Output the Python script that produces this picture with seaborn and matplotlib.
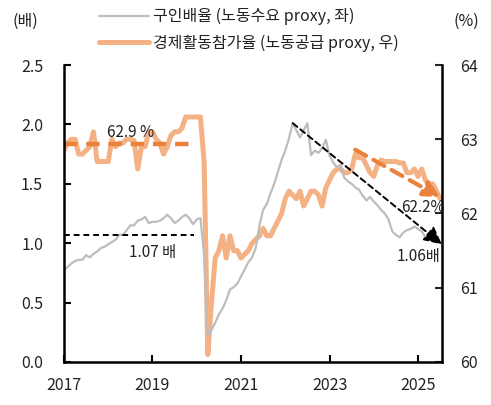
import numpy as np
import pandas as pd
import matplotlib
matplotlib.use("Agg")
import matplotlib.pyplot as plt
import seaborn as sns
from matplotlib.lines import Line2D

# ---------------- data ----------------
start_year = 2017
# job openings ratio (left axis, 배), monthly from 2017-01
vu_ratio = [
    0.77, 0.80, 0.83, 0.85, 0.86, 0.86, 0.90, 0.88, 0.91, 0.93, 0.96, 0.97,
    0.99, 1.01, 1.03, 1.07, 1.07, 1.11, 1.15, 1.15, 1.19, 1.20, 1.22, 1.17,
    1.18, 1.18, 1.19, 1.21, 1.24, 1.21, 1.17, 1.19, 1.22, 1.24, 1.21, 1.16,
    1.20, 1.21, 0.90, 0.22, 0.27, 0.33, 0.40, 0.45, 0.52, 0.61, 0.63, 0.66,
    0.72, 0.78, 0.84, 0.88, 0.96, 1.15, 1.28, 1.33, 1.42, 1.50, 1.60, 1.70,
    1.78, 1.88, 2.01, 1.95, 1.89, 1.95, 2.01, 1.74, 1.78, 1.76, 1.80, 1.87,
    1.74, 1.68, 1.64, 1.66, 1.55, 1.52, 1.50, 1.47, 1.45, 1.40, 1.36, 1.39,
    1.35, 1.32, 1.28, 1.25, 1.20, 1.10, 1.07, 1.05, 1.09, 1.11, 1.12, 1.14,
    1.12, 1.10, 1.05, 1.03, 1.05, 1.06,
]
# labour force participation rate (right axis, %), monthly from 2017-01
lfpr = [
    62.85, 62.95, 63.00, 63.00, 62.80, 62.80, 62.85, 62.90, 63.10, 62.70, 62.70, 62.70,
    62.70, 63.00, 62.90, 62.95, 62.95, 63.00, 63.00, 62.98, 62.60, 62.90, 62.90, 63.10,
    63.10, 63.00, 62.95, 62.80, 62.90, 63.05, 63.10, 63.10, 63.15, 63.30, 63.30, 63.30,
    63.30, 63.30, 62.70, 60.10, 60.80, 61.40, 61.50, 61.70, 61.40, 61.70, 61.50, 61.50,
    61.40, 61.45, 61.50, 61.60, 61.65, 61.70, 61.80, 61.70, 61.70, 61.80, 61.90, 62.00,
    62.20, 62.30, 62.25, 62.20, 62.30, 62.10, 62.20, 62.30, 62.30, 62.25, 62.10, 62.35,
    62.45, 62.55, 62.60, 62.60, 62.55, 62.55, 62.60, 62.80, 62.75, 62.75, 62.65, 62.55,
    62.50, 62.65, 62.72, 62.70, 62.70, 62.70, 62.70, 62.68, 62.68, 62.55, 62.55, 62.60,
    62.50, 62.60, 62.45, 62.40, 62.40, 62.30, 62.20,
]
year_ticks = [2017, 2019, 2021, 2023, 2025]
left_ticks = [0.0, 0.5, 1.0, 1.5, 2.0, 2.5]
right_ticks = [60, 61, 62, 63, 64]

label_vu = "구인배율 (노동수요 proxy, 좌)"
label_lf = "경제활동참가율 (노동공급 proxy, 우)"

# reference levels / trend annotations
vu_pre = 1.07
lf_pre = 62.93
pre_end = 2019.93
vu_trend = [(2022.17, 2.01), (2025.54, 0.99)]
lf_trend = [(2023.58, 62.86), (2025.5, 62.22)]

df_vu = pd.DataFrame({"year": start_year + np.arange(len(vu_ratio)) / 12, "v": vu_ratio})
df_lf = pd.DataFrame({"year": start_year + np.arange(len(lfpr)) / 12, "v": lfpr})

# ---------------- style ----------------
sns.set_theme(style="white")
plt.rcParams["font.family"] = ["Noto Sans CJK KR", "DejaVu Sans"]

GRAY = "#BDBDBD"
ORANGE = "#F4B183"
DORANGE = "#E8823C"
TXT = "#222222"

fig = plt.figure(figsize=(4.91, 4.05), dpi=100)
ax = fig.add_axes([0.1303, 0.1062, 0.7699, 0.7333])
ax2 = ax.twinx()

sns.lineplot(data=df_vu, x="year", y="v", ax=ax, color=GRAY, linewidth=1.6, zorder=2)
sns.lineplot(data=df_lf, x="year", y="v", ax=ax2, color=ORANGE, linewidth=3.6, zorder=2)

ax.set_zorder(ax2.get_zorder() + 1)
ax.patch.set_visible(False)

xmax = start_year + 102.5 / 12
ax.set_xlim(start_year, xmax)
ax.set_ylim(0, 2.5)
ax2.set_ylim(60, 64)
ax.set_xticks(year_ticks)
ax.set_xticklabels([str(y) for y in year_ticks])
ax.set_yticks(left_ticks)
ax.set_yticklabels([f"{v:.1f}" for v in left_ticks])
ax2.set_yticks(right_ticks)
ax2.set_yticklabels([str(v) for v in right_ticks])
ax.set_xlabel("")
ax.set_ylabel("")
ax2.set_ylabel("")

for a in (ax, ax2):
    a.spines["top"].set_visible(False)
    for s in ["left", "right", "bottom"]:
        a.spines[s].set_color("black")
        a.spines[s].set_linewidth(1.8)
ax.spines["right"].set_visible(False)
ax2.spines["left"].set_visible(False)
ax2.spines["bottom"].set_visible(False)

ax.tick_params(axis="both", direction="in", length=5, width=1.5, colors="black",
               labelsize=11.5, labelcolor=TXT)
ax.tick_params(axis="y", left=True, pad=15)
ax.tick_params(axis="x", bottom=True, pad=11)
ax2.tick_params(axis="y", direction="in", length=5, width=1.5, right=True,
                labelsize=11.5, labelcolor=TXT, pad=13)

# annotations: pre-covid levels
ax.plot([start_year, pre_end], [vu_pre, vu_pre], color="black", linestyle=(0, (3, 2)),
        linewidth=1.4, zorder=4)
ax2.plot([start_year, pre_end], [lf_pre, lf_pre], color=DORANGE, linestyle=(0, (3, 2)),
         linewidth=3.2, zorder=4)
ax.text(2019.0, 0.92, "1.07 배", ha="center", va="center", fontsize=11, color=TXT, zorder=6)
ax.text(2018.5, 1.93, "62.9 %", ha="center", va="center", fontsize=11, color=TXT, zorder=6)

# trend arrows
(x0, y0), (x1, y1) = vu_trend
ax.annotate("", xy=(x1, y1), xytext=(x0, y0),
            arrowprops=dict(arrowstyle="-|>,head_length=0.9,head_width=0.45",
                            color="black", linestyle=(0, (3, 2)), linewidth=1.4,
                            shrinkA=0, shrinkB=0), zorder=5)
(x0, y0), (x1, y1) = lf_trend
ax2.annotate("", xy=(x1, y1), xytext=(x0, y0),
             arrowprops=dict(arrowstyle="-|>,head_length=0.8,head_width=0.4",
                             color=DORANGE, linestyle=(0, (3, 2)), linewidth=3.0,
                             shrinkA=0, shrinkB=0), zorder=5)
ax.text(2025.1, 1.30, "62.2%", ha="center", va="center", fontsize=11, color=TXT, zorder=6)
ax.text(2025.0, 0.89, "1.06배", ha="center", va="center", fontsize=11, color=TXT, zorder=6)

# unit labels
fig.text(25 / 491, 1 - 21 / 405, "(배)", ha="center", va="center", fontsize=11.5, color=TXT)
fig.text(466 / 491, 1 - 21 / 405, "(%)", ha="center", va="center", fontsize=11.5, color=TXT)

# legend
handles = [Line2D([], [], color=GRAY, linewidth=1.6),
           Line2D([], [], color=ORANGE, linewidth=3.6)]
fig.legend(handles, [label_vu, label_lf], loc="upper left",
           bbox_to_anchor=(99 / 491, 1 - 8 / 405), frameon=False, fontsize=11.5,
           handlelength=3.1, handletextpad=0.3, labelspacing=0.6,
           borderpad=0, borderaxespad=0, labelcolor=TXT)

fig.savefig("out.png", dpi=100)
